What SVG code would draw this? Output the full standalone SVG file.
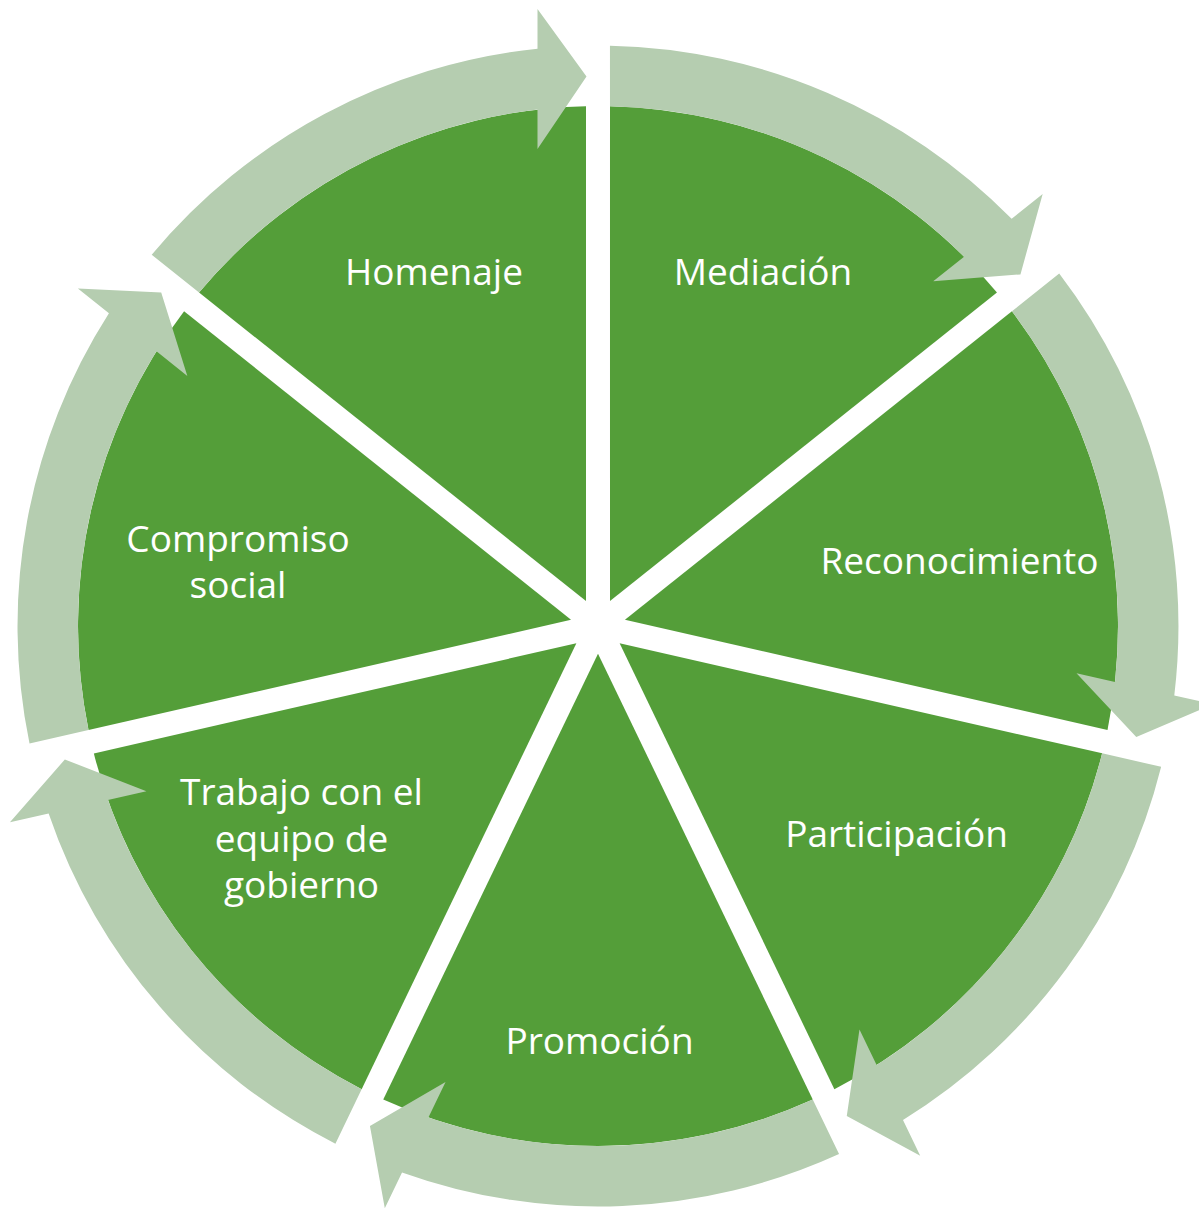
<svg xmlns="http://www.w3.org/2000/svg" xmlns:xlink="http://www.w3.org/1999/xlink" width="1199" height="1210" viewBox="0 0 1199 1210">
<style>
.seg{fill:#549E39}
.arr{fill:#B5CDB0}
.lbl{font-family:"Open Sans","Noto Sans","Liberation Sans",sans-serif;font-size:37px;fill:#FFFFFF;text-anchor:middle}
</style>
<defs>
<path id="wedge" d="M -12,-24.92 L -398.96,-333.5 A 520 520 0 0 1 -12,-519.86 Z"/>
<path id="arrow" d="M -446.3,-371.2 A 580.5 580.5 0 0 1 -60.5,-577.3 L -60.5,-617 L -11.5,-549.5 L -60.5,-477 L -60.5,-516.5 A 520 520 0 0 0 -398.96,-333.5 Z"/>
</defs>
<rect width="1199" height="1210" fill="#FFFFFF"/>
<g id="node-homenaje">
<use xlink:href="#wedge" class="seg" transform="translate(598,626) rotate(0)"/>
<text class="lbl" x="434" y="285">Homenaje</text>
</g>
<g id="node-mediacion">
<use xlink:href="#wedge" class="seg" transform="translate(598,626) rotate(51.4286)"/>
<text class="lbl" x="763" y="285">Mediación</text>
</g>
<g id="node-reconocimiento">
<use xlink:href="#wedge" class="seg" transform="translate(598,626) rotate(102.8571)"/>
<text class="lbl" x="959.5" y="574">Reconocimiento</text>
</g>
<g id="node-participacion">
<use xlink:href="#wedge" class="seg" transform="translate(598,626) rotate(154.2857)"/>
<text class="lbl" x="896.5" y="847">Participación</text>
</g>
<g id="node-promocion">
<use xlink:href="#wedge" class="seg" transform="translate(598,626) rotate(205.7143)"/>
<text class="lbl" x="599.5" y="1054">Promoción</text>
</g>
<g id="node-trabajo">
<use xlink:href="#wedge" class="seg" transform="translate(598,626) rotate(257.1429)"/>
<text class="lbl" x="301.5" y="805">Trabajo con el</text>
<text class="lbl" x="301.5" y="851.5">equipo de</text>
<text class="lbl" x="301.5" y="898">gobierno</text>
</g>
<g id="node-compromiso">
<use xlink:href="#wedge" class="seg" transform="translate(598,626) rotate(308.5714)"/>
<text class="lbl" x="238" y="551.5">Compromiso</text>
<text class="lbl" x="238" y="598">social</text>
</g>
<g id="connectors">
<use xlink:href="#arrow" class="arr" transform="translate(598,626) rotate(0)"/>
<use xlink:href="#arrow" class="arr" transform="translate(598,626) rotate(51.4286)"/>
<use xlink:href="#arrow" class="arr" transform="translate(598,626) rotate(102.8571)"/>
<use xlink:href="#arrow" class="arr" transform="translate(598,626) rotate(154.2857)"/>
<use xlink:href="#arrow" class="arr" transform="translate(598,626) rotate(205.7143)"/>
<use xlink:href="#arrow" class="arr" transform="translate(598,626) rotate(257.1429)"/>
<use xlink:href="#arrow" class="arr" transform="translate(598,626) rotate(308.5714)"/>
</g>
</svg>
